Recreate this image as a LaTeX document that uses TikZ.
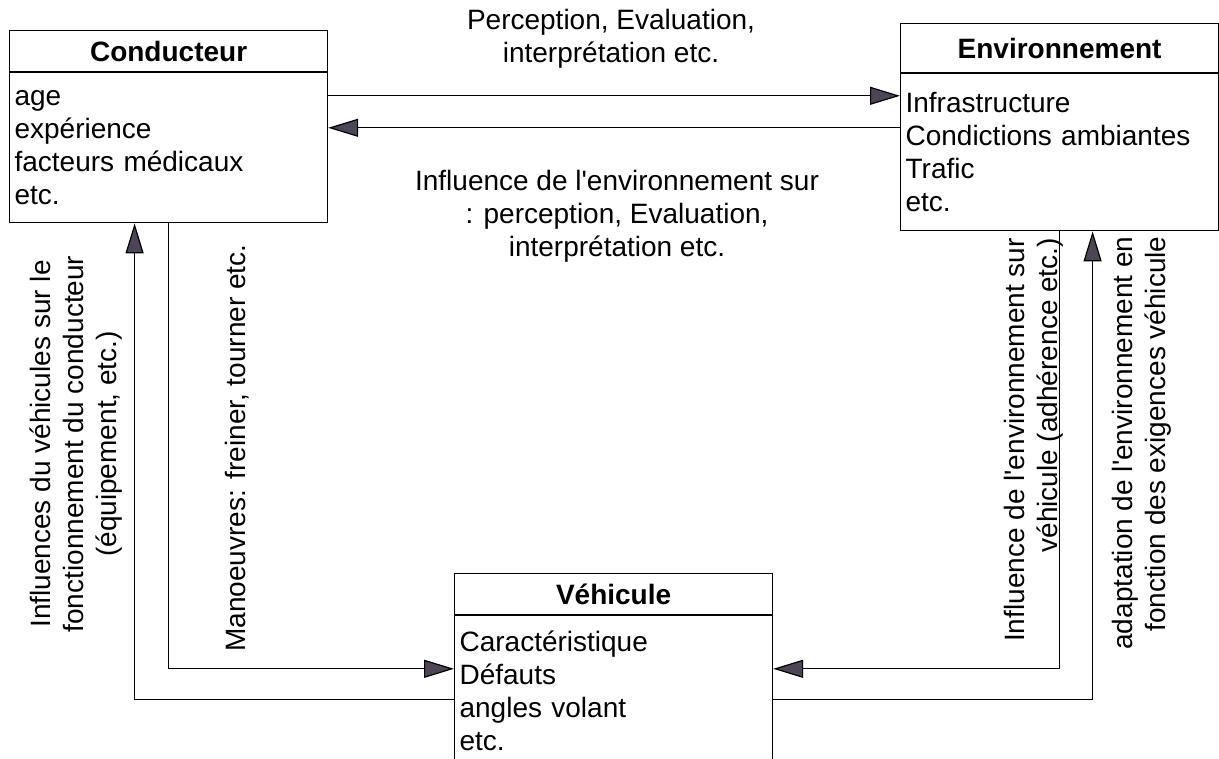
\documentclass[tikz,border=0pt]{standalone}
\usepackage{fontspec}
\setmainfont{Liberation Sans}
\usepackage{xcolor}
\usepackage{tikz}
\usetikzlibrary{arrows.meta}
\definecolor{arrowgray}{HTML}{4D4556}
\newcommand{\diafont}{\fontsize{28}{33}\selectfont}

\tikzset{
  titlebox/.style={draw, line width=1.2pt, minimum width=318pt, minimum height=41pt,
    inner sep=0pt, font=\diafont\bfseries, anchor=north west},
  listbox/.style={draw, line width=1.2pt, text width=308pt, inner xsep=5pt,
    align=left, font=\diafont, anchor=north},
  flow/.style={line width=1.2pt, -{Triangle[length=30pt,width=18pt,fill=arrowgray]}},
  note/.style={font=\diafont, align=center}
}

\begin{document}
\begin{tikzpicture}[x=1pt,y=-1pt]
    \useasboundingbox (0,0) rectangle (1219,759);
    \clip (0,0) rectangle (1219,759);

    % Les trois blocs
    \node[titlebox] (cond) at (9,30) {Conducteur};
    \node[listbox, minimum height=150pt] (condB) at (cond.south)
        {age\\expérience\\facteurs médicaux\\etc.};
    \node[titlebox, minimum height=49pt] (env) at (900,23) {Environnement};
    \node[listbox, minimum height=157pt] (envB) at (env.south)
        {Infrastructure\\Condictions ambiantes\\Trafic\\etc.};
    \node[titlebox] (veh) at (454,573) {Véhicule};
    \node[listbox, minimum height=150pt] (vehB) at (veh.south)
        {Caractéristique\\Défauts\\angles volant\\etc.};

    % Liaisons conducteur - environnement
    \draw[flow] ([yshift=52pt]condB.east) -- ([yshift=52pt]condB.east -| envB.west);
    \draw[flow] ([yshift=20pt]condB.east -| envB.west) -- ([yshift=20pt]condB.east);

    % Liaisons avec le véhicule
    \draw[flow] (condB.south) |- ([yshift=22pt]vehB.west);
    \draw[flow] ([yshift=-9pt]vehB.west) -| ([xshift=-34pt]condB.south);
    \draw[flow] (envB.south) |- ([yshift=22pt]vehB.east);
    \draw[flow] ([yshift=-9pt]vehB.east) -| ([xshift=33pt]envB.south);

    % Textes des liaisons
    \node[note] (percep) at (611,38.5) {Perception, Evaluation,\\interprétation etc.};
    \node[note] (influ) at (617,216.5)
        {Influence de l\textquotesingle environnement sur\\: perception, Evaluation,\\interprétation etc.};
    \node[note, rotate=90] (vehCond) at (76,444)
        {Influences du véhicules sur le\\fonctionnement du conducteur\\(équipement, etc.)};
    \node[note, rotate=90] (manoeuvre) at (237,448) {Manoeuvres: freiner, tourner etc.};
    \node[note, rotate=90, align=right] (envVeh) at (1034,440)
        {Influence de l\textquotesingle environnement sur\\véhicule (adhérence etc.)};
    \node[note, rotate=90, align=right] (adapt) at (1142,443)
        {adaptation de l\textquotesingle environnement en\\fonction des exigences véhicule};
\end{tikzpicture}
\end{document}
